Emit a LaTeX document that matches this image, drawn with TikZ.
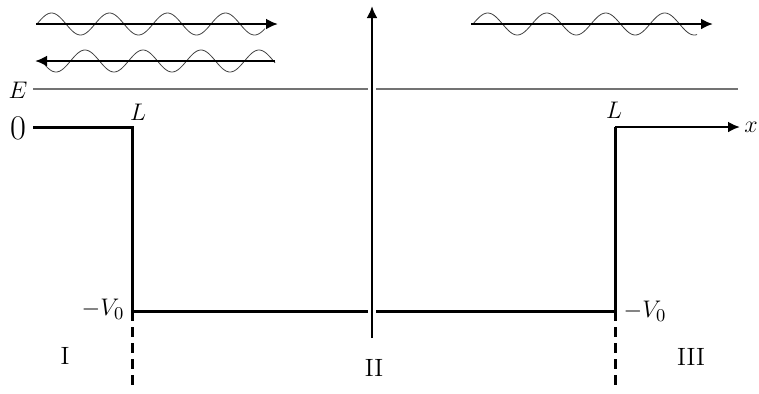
\documentclass[tikz,border=0pt]{standalone}
\usepackage{amsmath}
\usetikzlibrary{arrows.meta,positioning}

\begin{document}
\begin{tikzpicture}[x=0.5pt, y=-0.5pt,
  wall/.style={line width=1.5pt},
  ar/.style={-{Latex[length=6pt,width=5.5pt]}, line width=1.4pt},
  wave/.style={line width=0.4pt, black!75},
  lvl/.style={line width=0.8pt, black!55},
  halo/.style={draw=white, line width=4pt},
  lbl/.style={font=\fontsize{12.5}{14}\selectfont, inner sep=1pt}]
\useasboundingbox (0,0) rectangle (759,393);

% incident, reflected and transmitted waves
\draw[wave] plot[domain=37:265, samples=150] (\x,{24-11*sin((\x-37)/58*360)});
\draw[wave] plot[domain=45:275, samples=150] (\x,{61-11*sin((\x-12.5)/58*360)});
\draw[wave] plot[domain=473:697, samples=150] (\x,{24-11*sin((\x-473)/59*360)});
\coordinate (inA) at (36,24);   \coordinate (inB) at (278,24);
\coordinate (reA) at (275,61);  \coordinate (reB) at (35,61);
\coordinate (trA) at (471,24);  \coordinate (trB) at (713,24);
\draw[ar] (inA) -- (inB);
\draw[ar] (reA) -- (reB);
\draw[ar] (trA) -- (trB);

% energy level
\node[lbl] (eE) at (18,90) {$E$};
\coordinate (eR) at (738,89);
\draw[lvl] (33,89) -- (eR);

% the well
\node[font=\fontsize{17}{19}\selectfont, inner sep=1pt] (zero) at (18,128) {$0$};
\coordinate (p0) at (33,127);
\coordinate (tl) at (132,127);
\coordinate (bl) at (132,311);
\coordinate (br) at (615,311);
\coordinate (tr) at (615,127);
\coordinate (xe) at (740,127);
\draw[wall, line join=miter] (p0) -| (bl) -- (br) |- (tr);
\draw[ar] (tr) -- (xe);
\node[lbl, right=1pt of xe] (xl) {$x$};

% vertical axis
\coordinate (yb) at (372,338);
\coordinate (yt) at (372,6);
\draw[halo] (yb) -- (372,80);
\draw[ar] (yb) -- (yt);

% boundaries
\draw[wall, dashed, dash pattern=on 5pt off 3pt] (bl) -- ++(0,77);
\draw[wall, dashed, dash pattern=on 5pt off 3pt] (br) -- ++(0,77);

% labels
\node[lbl] (lL) at (138,112) {$L$};
\node[lbl] (lR) at (614,110) {$L$};
\node[lbl] (vL) at (103,309) {$-V_0$};
\node[lbl] (vR) at (645,311) {$-V_0$};
\node[lbl] (r1) at (65,356) {I};
\node[lbl] (r2) at (374,368) {II};
\node[lbl] (r3) at (691,357) {III};
\end{tikzpicture}
\end{document}
